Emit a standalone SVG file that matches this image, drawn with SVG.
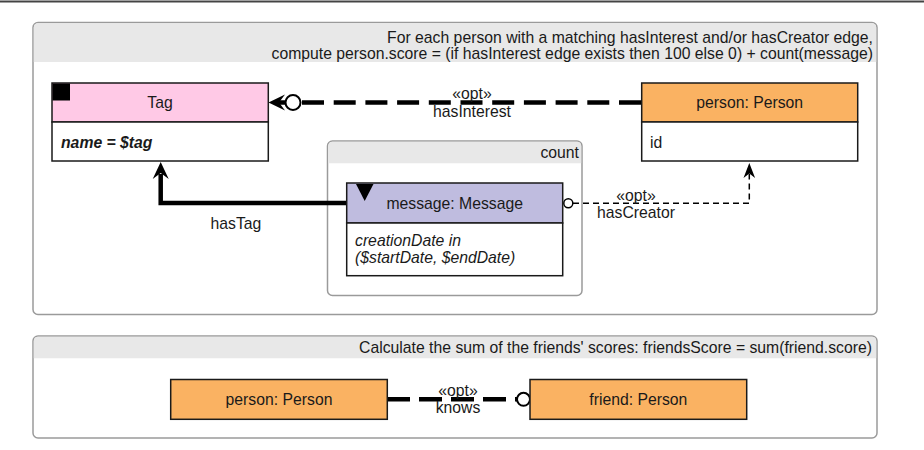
<svg xmlns="http://www.w3.org/2000/svg" width="924" height="450" viewBox="0 0 924 450">
<style>
text{font-family:"Liberation Sans",Arial,sans-serif;font-size:15.75px;fill:#1a1a1a}
.frame{fill:#fff;stroke:#9a9a9a;stroke-width:1.5}
.band{fill:#e8e8e8}
.box{stroke:#1a1a1a;stroke-width:1.5}
.thick{fill:none;stroke:#000;stroke-width:4.5}
.thin{fill:none;stroke:#000;stroke-width:1.5}
.mid{text-anchor:middle}
.end{text-anchor:end}
</style>
<rect x="0" y="0" width="924" height="450" fill="#fff"/>
<line x1="0" y1="1.5" x2="924" y2="1.5" stroke="#444" stroke-width="2"/>
<g id="frame1">
<rect class="frame" x="33" y="22.5" width="844" height="292" rx="5"/>
<path class="band" d="M38 23.3 H872 Q876.2 23.3 876.2 27.5 V62 H33.8 V27.5 Q33.8 23.3 38 23.3 Z"/>
<text class="end" x="873" y="42.5">For each person with a matching hasInterest and/or hasCreator edge,</text>
<text class="end" x="873" y="58.5">compute person.score = (if hasInterest edge exists then 100 else 0) + count(message)</text>
</g>
<g id="count">
<rect class="frame" x="327.5" y="141" width="254.5" height="154.5" rx="5"/>
<path class="band" d="M332.5 141.8 H577 Q581.2 141.8 581.2 146 V163.3 H328.3 V146 Q328.3 141.8 332.5 141.8 Z"/>
<text class="end" x="579" y="158">count</text>
</g>
<g id="frame2">
<rect class="frame" x="33" y="336" width="844" height="102" rx="5"/>
<path class="band" d="M38 336.8 H872 Q876.2 336.8 876.2 341 V358.3 H33.8 V341 Q33.8 336.8 38 336.8 Z"/>
<text class="end" x="872" y="353">Calculate the sum of the friends' scores: friendsScore = sum(friend.score)</text>
</g>
<g id="connectors">
<path class="thick" d="M641 102.5 L300.5 102.5" stroke-dasharray="22 9.7"/>
<circle cx="293" cy="102.5" r="7.5" fill="#fff" stroke="#000" stroke-width="2"/>
<line class="thick" x1="285.5" y1="102.5" x2="278" y2="102.5"/>
<path d="M268.5 102.5 L285 94.5 L279 102.5 L285 110.5 Z" fill="#000"/>
<text class="mid" x="472" y="99">«opt»</text>
<text class="mid" x="472" y="116.5">hasInterest</text>
<path class="thick" d="M346.7 203 L160.7 203 L160.7 174"/>
<path d="M160.7 162 L152.7 179 L160.7 173 L168.7 179 Z" fill="#000"/>
<text class="mid" x="236" y="229">hasTag</text>
<path class="thin" d="M573 203.3 L749.3 203.3 L749.3 174" stroke-dasharray="6 4"/>
<circle cx="568.3" cy="203.3" r="4.5" fill="#fff" stroke="#000" stroke-width="1.5"/>
<path d="M749.3 163 L743.5 178 L749.3 173.5 L755.1 178 Z" fill="#000"/>
<text class="mid" x="636" y="200.5">«opt»</text>
<text class="mid" x="636" y="217.5">hasCreator</text>
<path class="thick" d="M387 399.3 L517 399.3" stroke-dasharray="23 9"/>
<circle cx="523.5" cy="399.3" r="6.5" fill="#fff" stroke="#000" stroke-width="2"/>
<text class="mid" x="458" y="395.5">«opt»</text>
<text class="mid" x="458" y="413">knows</text>
</g>
<g id="tag">
<rect class="box" x="52" y="83" width="216.3" height="39" fill="#ffc9e6"/>
<rect class="box" x="52" y="122" width="216.3" height="39" fill="#fff"/>
<rect x="52.5" y="83.5" width="17.5" height="17" fill="#000"/>
<text class="mid" x="160" y="108">Tag</text>
<text x="61" y="147.5" font-weight="bold" font-style="italic">name = $tag</text>
</g>
<g id="person">
<rect class="box" x="641.7" y="83" width="216" height="39" fill="#fab262"/>
<rect class="box" x="641.7" y="122" width="216" height="39" fill="#fff"/>
<text class="mid" x="749.7" y="108">person: Person</text>
<text x="650" y="147.5">id</text>
</g>
<g id="message">
<rect class="box" x="346.7" y="183" width="216" height="40" fill="#bfbcdf"/>
<rect class="box" x="346.7" y="223" width="216" height="52.7" fill="#fff"/>
<path d="M356 184 L373.5 184 L364.7 201 Z" fill="#000"/>
<text class="mid" x="454.7" y="209">message: Message</text>
<text x="355" y="245.5" font-style="italic">creationDate in</text>
<text x="355" y="262.5" font-style="italic">($startDate, $endDate)</text>
</g>
<g id="person2">
<rect class="box" x="170.7" y="379.5" width="216.6" height="39.8" fill="#fab262"/>
<text class="mid" x="279" y="405">person: Person</text>
</g>
<g id="friend">
<rect class="box" x="530" y="379.5" width="216.7" height="39.8" fill="#fab262"/>
<text class="mid" x="638.3" y="405">friend: Person</text>
</g>
</svg>
